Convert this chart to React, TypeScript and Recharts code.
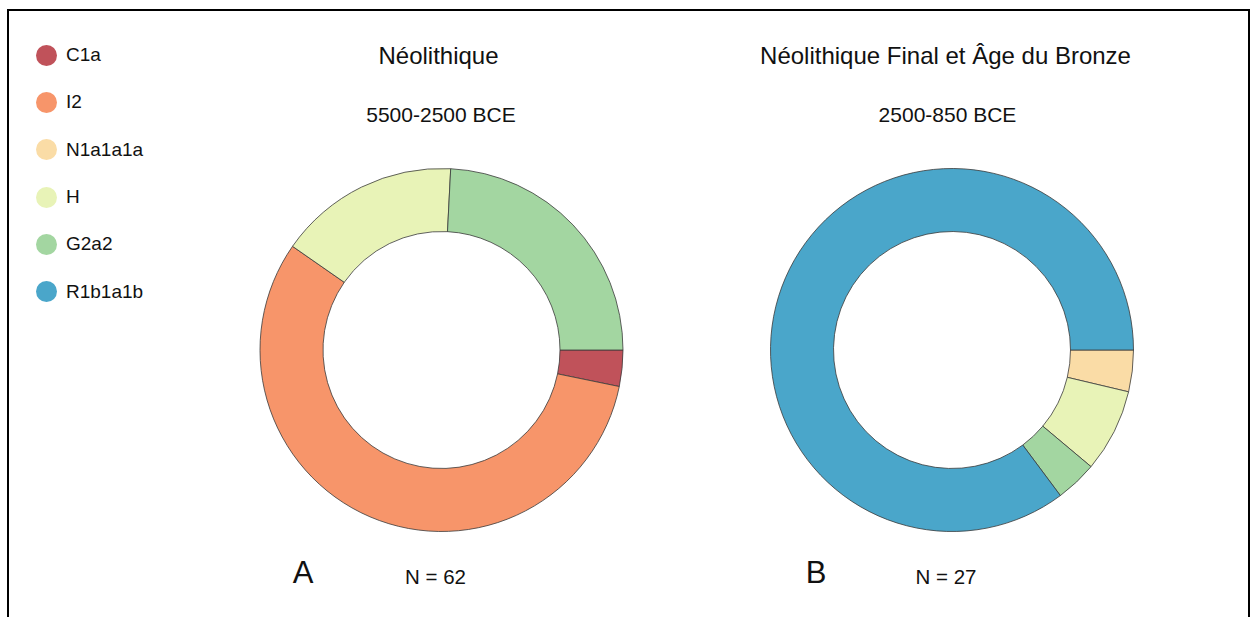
import React from 'react';
import { PieChart, Pie, Cell, Legend } from 'recharts';

// haplogroups, in legend order
const haplogroups = ['C1a', 'I2', 'N1a1a1a', 'H', 'G2a2', 'R1b1a1b'];
const colors = ['#C0525A', '#F7956A', '#FADCA6', '#E8F3B7', '#A3D6A1', '#4AA6CA'];

// sample counts per haplogroup
const neolithicCounts = [2, 35, 0, 10, 15, 0];
const bronzeCounts = [0, 0, 1, 2, 1, 23];

const titles = ['Néolithique', 'Néolithique Final et Âge du Bronze'];
const periods = ['5500-2500 BCE', '2500-850 BCE'];
const panelLetters = ['A', 'B'];
const sampleSizes = ['N = 62', 'N = 27'];

const toSlices = (counts: number[]) =>
  haplogroups
    .map((name, i) => ({ name, value: counts[i], color: colors[i] }))
    .filter(d => d.value > 0);

const font = 'Helvetica, Arial, "Liberation Sans", sans-serif';

const LegendList = () => (
  <div style={{ fontFamily: font }}>
    {haplogroups.map((h, i) => (
      <div key={h} style={{ height: 47.3, display: 'flex', alignItems: 'center' }}>
        <span style={{ width: 21, height: 21, borderRadius: '50%', background: colors[i], display: 'inline-block' }} />
        <span style={{ marginLeft: 9, fontSize: 19, color: '#111' }}>{h}</span>
      </div>
    ))}
  </div>
);

export default function App() {
  const W = 1251;
  const H = 617;
  const centers = [441.5, 952];
  const cy = 350;
  return (
    <div style={{ position: 'relative', width: W, height: H, background: '#fff', overflow: 'hidden' }}>
      <style>{'body{margin:0}'}</style>
      <PieChart
        width={W}
        height={H}
        margin={{ top: 0, right: 0, bottom: 0, left: 0 }}
        style={{ position: 'absolute', left: 0, top: 0 }}
      >
        <Pie
          data={toSlices(neolithicCounts)}
          dataKey="value"
          nameKey="name"
          cx={centers[0]}
          cy={cy}
          innerRadius={118.5}
          outerRadius={181.5}
          startAngle={0}
          endAngle={-360}
          stroke="#3a3a3a"
          strokeWidth={0.8}
          isAnimationActive={false}
        >
          {toSlices(neolithicCounts).map(d => (
            <Cell key={d.name} fill={d.color} />
          ))}
        </Pie>
        <Pie
          data={toSlices(bronzeCounts)}
          dataKey="value"
          nameKey="name"
          cx={centers[1]}
          cy={cy}
          innerRadius={118.5}
          outerRadius={181.5}
          startAngle={0}
          endAngle={-360}
          stroke="#3a3a3a"
          strokeWidth={0.8}
          isAnimationActive={false}
        >
          {toSlices(bronzeCounts).map(d => (
            <Cell key={d.name} fill={d.color} />
          ))}
        </Pie>
        <Legend
          content={() => <LegendList />}
          wrapperStyle={{ position: 'absolute', left: 36, top: 31.5, width: 180 }}
        />
      </PieChart>
      <svg width={W} height={H} style={{ position: 'absolute', left: 0, top: 0, pointerEvents: 'none' }} fontFamily={font}>
        <rect x={8} y={10} width={1241} height={700} fill="none" stroke="#000" strokeWidth={2} />
        {[0, 1].map(i => (
          <g key={i}>
            <text x={i === 0 ? 438.5 : 945.5} y={64} textAnchor="middle" fontSize={24} fill="#111">{titles[i]}</text>
            <text x={i === 0 ? 441 : 947.5} y={121.5} textAnchor="middle" fontSize={21} fill="#111">{periods[i]}</text>
            <text x={i === 0 ? 303 : 816} y={582.5} textAnchor="middle" fontSize={31} fill="#111">{panelLetters[i]}</text>
            <text x={i === 0 ? 435.5 : 946} y={584.3} textAnchor="middle" fontSize={20.5} fill="#111">{sampleSizes[i]}</text>
          </g>
        ))}
      </svg>
    </div>
  );
}
